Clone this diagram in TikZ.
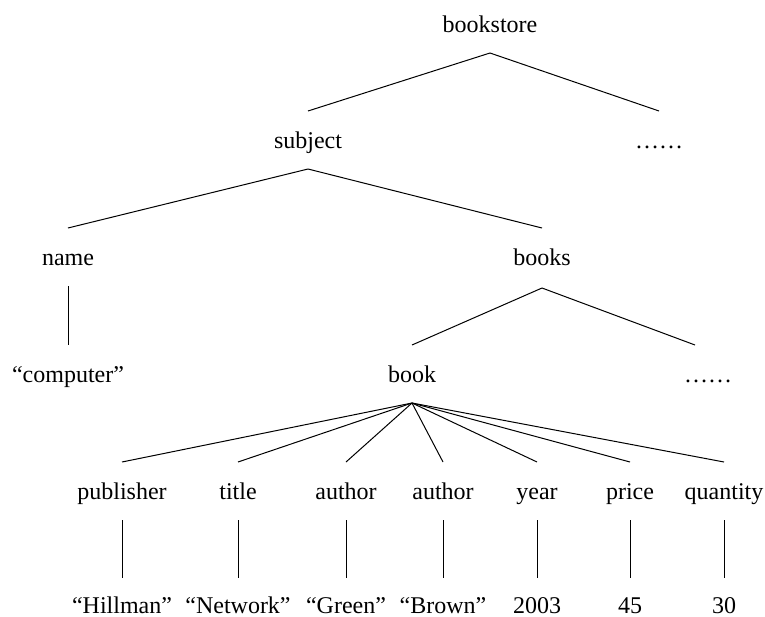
\documentclass[tikz,border=0pt]{standalone}
\usepackage{fontspec}
\setmainfont{Liberation Serif}
\usetikzlibrary{positioning}

\begin{document}
\begin{tikzpicture}[
  x=0.5pt, y=-0.5pt,
  font=\fontsize{12}{14}\selectfont,
  lbl/.style={anchor=base, inner sep=0pt},
  br/.style={line width=0.5pt}
]
\useasboundingbox (0,0) rectangle (765,616);
% tree levels, placed on their baselines
\node[lbl] (bst) at (490,32)  {bookstore};
\node[lbl] (sub) at (308,148) {subject};
\node[lbl] (dt1) at (659,148) {……};
\node[lbl] (nam) at (68,265)  {name};
\node[lbl] (bks) at (542,265) {books};
\node[lbl] (cmp) at (68,382)  {``computer''};
\node[lbl] (bk)  at (412,382) {book};
\node[lbl] (dt2) at (708,382) {……};
\node[lbl] (pub) at (122,499) {publisher};
\node[lbl] (ttl) at (238,499) {title};
\node[lbl] (au1) at (346,499) {author};
\node[lbl] (au2) at (443,499) {author};
\node[lbl] (yr)  at (537,499) {year};
\node[lbl] (prc) at (630,499) {price};
\node[lbl] (qty) at (724,499) {quantity};
\node[lbl] (vpb) at (122,613) {``Hillman''};
\node[lbl] (vtl) at (238,613) {``Network''};
\node[lbl] (va1) at (346,613) {``Green''};
\node[lbl] (va2) at (443,613) {``Brown''};
\node[lbl] (vyr) at (537,613) {2003};
\node[lbl] (vpr) at (630,613) {45};
\node[lbl] (vqt) at (724,613) {30};
% branches
\draw[br] ([yshift=-10.5pt]bst.base) -- ([yshift=18.5pt]sub.base);
\draw[br] ([yshift=-10.5pt]bst.base) -- ([yshift=18.5pt]dt1.base);
\draw[br] ([yshift=-10.5pt]sub.base) -- ([yshift=18.5pt]nam.base);
\draw[br] ([yshift=-10.5pt]sub.base) -- ([yshift=18.5pt]bks.base);
\draw[br] ([yshift=-10.5pt]nam.base) -- ([yshift=18.5pt]cmp.base);
\draw[br] ([yshift=-11.5pt]bks.base) -- ([yshift=18.5pt]bk.base);
\draw[br] ([yshift=-11.5pt]bks.base) -- ([xshift=-6.5pt,yshift=18.5pt]dt2.base);
\draw[br] ([yshift=-10.5pt]bk.base) -- ([yshift=18.5pt]pub.base);
\draw[br] ([yshift=-10.5pt]bk.base) -- ([yshift=18.5pt]ttl.base);
\draw[br] ([yshift=-10.5pt]bk.base) -- ([yshift=18.5pt]au1.base);
\draw[br] ([yshift=-10.5pt]bk.base) -- ([yshift=18.5pt]au2.base);
\draw[br] ([yshift=-10.5pt]bk.base) -- ([yshift=18.5pt]yr.base);
\draw[br] ([yshift=-10.5pt]bk.base) -- ([yshift=18.5pt]prc.base);
\draw[br] ([yshift=-10.5pt]bk.base) -- ([yshift=18.5pt]qty.base);
\draw[br] ([yshift=-10.5pt]pub.base) -- ([yshift=17.5pt]vpb.base);
\draw[br] ([yshift=-10.5pt]ttl.base) -- ([yshift=17.5pt]vtl.base);
\draw[br] ([yshift=-10.5pt]au1.base) -- ([yshift=17.5pt]va1.base);
\draw[br] ([yshift=-10.5pt]au2.base) -- ([yshift=17.5pt]va2.base);
\draw[br] ([yshift=-10.5pt]yr.base) -- ([yshift=17.5pt]vyr.base);
\draw[br] ([yshift=-10.5pt]prc.base) -- ([yshift=17.5pt]vpr.base);
\draw[br] ([yshift=-10.5pt]qty.base) -- ([yshift=17.5pt]vqt.base);
\end{tikzpicture}
\end{document}
